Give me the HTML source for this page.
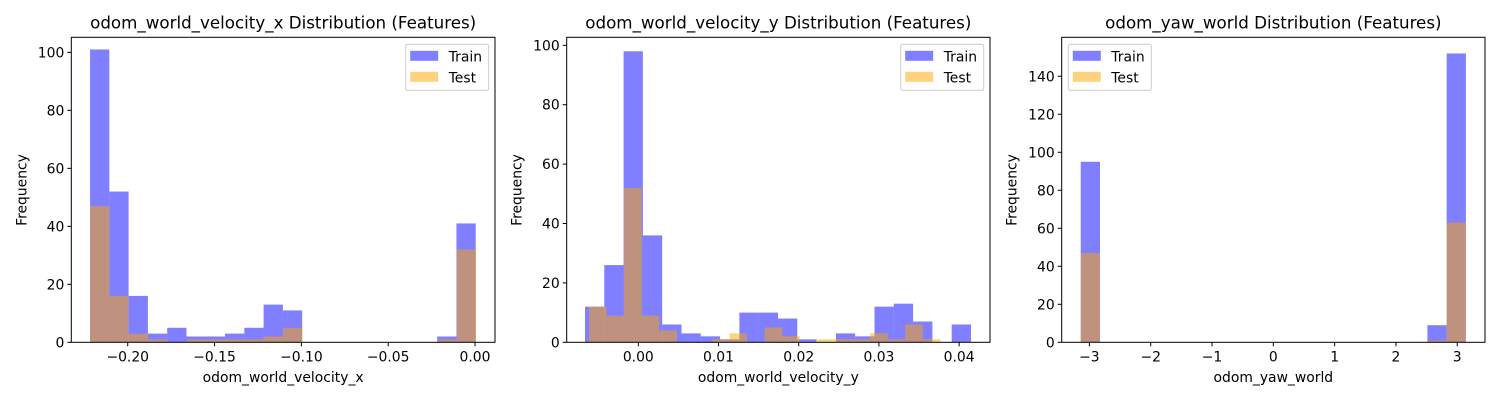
<!DOCTYPE html>
<html><head><meta charset="utf-8"><style>
body{margin:0;background:#fff;}
svg{display:block;font-family:"DejaVu Sans","Liberation Sans",sans-serif;}
</style></head><body>
<svg id="fig" width="1500" height="400" viewBox="0 0 1500 400" xmlns="http://www.w3.org/2000/svg"></svg>
<script>
// Panel 1: odom_world_velocity_x
const p1TrainCounts = [101,52,16,3,5,2,2,3,5,13,11,0,0,0,0,0,0,0,2,41];
const p1TestCounts  = [47,16,3,1,0,1,1,1,1,2,5,0,0,0,0,0,0,0,1,32];
const p1TrainRange = [-0.2217, 0.0004];
const p1TestRange  = [-0.2217, 0.0006];
const p1XTicks = [-0.20,-0.15,-0.10,-0.05,0.00];
const p1XTickLabels = ["−0.20","−0.15","−0.10","−0.05","0.00"];
const p1YTicks = [0,20,40,60,80,100];
// Panel 2: odom_world_velocity_y
const p2TrainCounts = [12,26,98,36,6,3,2,1,10,10,8,1,0,3,2,12,13,7,0,6];
const p2TestCounts  = [12,9,52,9,4,0,0,1,3,0,5,2,0,1,1,1,3,1,6,1];
const p2TrainRange = [-0.00665, 0.04148];
const p2TestRange  = [-0.00615, 0.03766];
const p2XTicks = [0,0.01,0.02,0.03,0.04];
const p2XTickLabels = ["0.00","0.01","0.02","0.03","0.04"];
const p2YTicks = [0,20,40,60,80,100];
// Panel 3: odom_yaw_world
const p3TrainCounts = [95,0,0,0,0,0,0,0,0,0,0,0,0,0,0,0,0,0,9,152];
const p3TestCounts  = [47,0,0,0,0,0,0,0,0,0,0,0,0,0,0,0,0,0,1,63];
const p3TrainRange = [-3.1416, 3.1416];
const p3TestRange  = [-3.1416, 3.1416];
const p3XTicks = [-3,-2,-1,0,1,2,3];
const p3XTickLabels = ["−3","−2","−1","0","1","2","3"];
const p3YTicks = [0,20,40,60,80,100,120,140];

const NS="http://www.w3.org/2000/svg";
const svg=document.getElementById('fig');
function mk(tag,attrs,parent,text){const e=document.createElementNS(NS,tag);for(const k in attrs)e.setAttribute(k,attrs[k]);if(text!==undefined)e.textContent=text;(parent||svg).appendChild(e);return e;}

function panel(cfg){
  const g=mk('g',{});
  
  
  const L=cfg.left,R=cfg.right,T=37.3,B=342.3;
  const xs=v=>L+(v-cfg.xdom[0])/(cfg.xdom[1]-cfg.xdom[0])*(R-L);
  const ys=v=>B-v/cfg.ymax*(B-T);
  function bars(counts,range,color,nm){
    const n=counts.length,w=(range[1]-range[0])/n;
    counts.forEach((c,i)=>{
      if(c<=0)return;
      const x0=xs(range[0]+i*w),x1=xs(range[0]+(i+1)*w);
      const r=mk('rect',{x:x0,y:ys(c),width:x1-x0,height:ys(0)-ys(c),fill:color},g);
      
      
    });
  }
  bars(cfg.train,cfg.trainRange,'rgba(0,0,255,0.5)','train');
  bars(cfg.test,cfg.testRange,'rgba(255,165,0,0.5)','test');
  const frame=mk('rect',{x:L,y:T,width:R-L,height:B-T,fill:'none',stroke:'#000','stroke-width':1},g);
  
  
  cfg.xticks.forEach((v,i)=>{
    const x=xs(v);
    mk('line',{x1:x,x2:x,y1:B,y2:B+4,stroke:'#000'},g);
    const t=mk('text',{x:x,y:B+19,'font-size':13.9,'text-anchor':'middle'},g,cfg.xlabels[i]);
    
    
  });
  cfg.yticks.forEach(v=>{
    const y=ys(v);
    mk('line',{x1:L-4,x2:L,y1:y,y2:y,stroke:'#000'},g);
    const t=mk('text',{x:L-7,y:y+5,'font-size':13.9,'text-anchor':'end'},g,String(v));
    
    
  });
  const cx=(L+R)/2;
  const title=mk('text',{x:cx,y:28.5,'font-size':16.7,'text-anchor':'middle'},g,cfg.title);
  
  
  const xl=mk('text',{x:cx,y:382,'font-size':13.9,'text-anchor':'middle'},g,cfg.xlabel);
  
  
  const yl=mk('text',{x:0,y:0,'font-size':13.9,'text-anchor':'middle',transform:`translate(${L-45},190) rotate(-90)`},g,'Frequency');
  
  
  // legend
  const lx=cfg.legendX,ly=44.3;
  const lg=mk('g',{},g);
  
  
  mk('rect',{x:lx,y:ly,width:83,height:46,rx:2,fill:'rgba(255,255,255,0.8)',stroke:'#ccc'},lg);
  mk('rect',{x:lx+4.5,y:ly+6.5,width:28,height:10,fill:'rgba(0,0,255,0.5)'},lg);
  mk('rect',{x:lx+4.5,y:ly+27.5,width:28,height:10,fill:'rgba(255,165,0,0.5)'},lg);
  const e1=mk('text',{x:lx+43,y:ly+17,'font-size':13.9},lg,'Train');
  
  
  const e2=mk('text',{x:lx+43,y:ly+38,'font-size':13.9},lg,'Test');
  
  
}

panel({name:'panel-velocity-x',left:71.3,right:495,xdom:[-0.2325,0.0115],ymax:105.2,
  train:p1TrainCounts,test:p1TestCounts,trainRange:p1TrainRange,testRange:p1TestRange,
  xticks:p1XTicks,xlabels:p1XTickLabels,yticks:p1YTicks,
  title:'odom_world_velocity_x Distribution (Features)',xlabel:'odom_world_velocity_x',legendX:405.7});
panel({name:'panel-velocity-y',left:566.7,right:990,xdom:[-0.00893,0.04385],ymax:102.7,
  train:p2TrainCounts,test:p2TestCounts,trainRange:p2TrainRange,testRange:p2TestRange,
  xticks:p2XTicks,xlabels:p2XTickLabels,yticks:p2YTicks,
  title:'odom_world_velocity_y Distribution (Features)',xlabel:'odom_world_velocity_y',legendX:900.7});
panel({name:'panel-yaw-world',left:1061.7,right:1485,xdom:[-3.452,3.453],ymax:160.5,
  train:p3TrainCounts,test:p3TestCounts,trainRange:p3TrainRange,testRange:p3TestRange,
  xticks:p3XTicks,xlabels:p3XTickLabels,yticks:p3YTicks,
  title:'odom_yaw_world Distribution (Features)',xlabel:'odom_yaw_world',legendX:1068.3});
</script>
</body></html>
